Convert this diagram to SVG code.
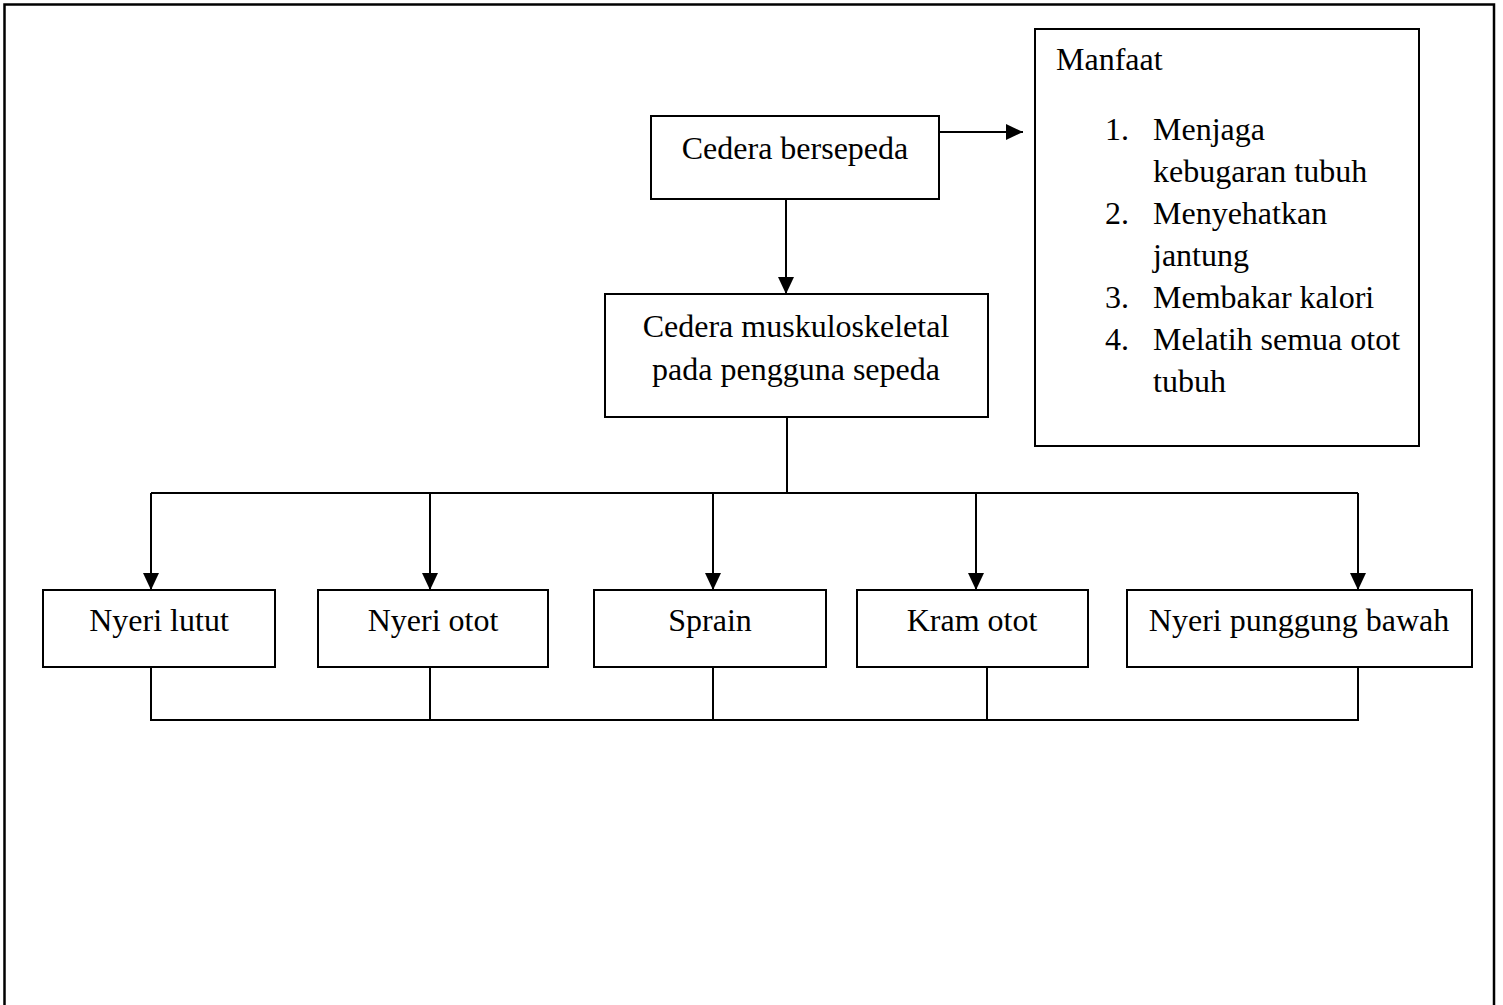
<svg xmlns="http://www.w3.org/2000/svg" width="1503" height="1005" viewBox="0 0 1503 1005">
<style>
.box{fill:#fff;stroke:#000;stroke-width:2}
.t{font-family:"Liberation Serif","Times New Roman",serif;font-size:32px;fill:#000}
.c{text-anchor:middle}
.ln{fill:none;stroke:#000;stroke-width:2}
</style>
<defs>
<marker id="ah" markerWidth="18" markerHeight="18" viewBox="0 0 18 18" refX="17" refY="9" orient="auto" markerUnits="userSpaceOnUse">
<path d="M0,1 L17,9 L0,17 Z" fill="#000"/>
</marker>
</defs>
<rect width="1503" height="1005" fill="#fff"/>
<rect x="4.5" y="4.5" width="1489.5" height="1020" fill="none" stroke="#000" stroke-width="2.5"/>
<g id="connectors">
<line class="ln" x1="940" y1="132" x2="1023" y2="132" marker-end="url(#ah)"/>
<line class="ln" x1="786" y1="199" x2="786" y2="294" marker-end="url(#ah)"/>
<line class="ln" x1="787" y1="417" x2="787" y2="493"/>
<line class="ln" x1="151" y1="493" x2="1358" y2="493"/>
<line class="ln" x1="151" y1="493" x2="151" y2="590" marker-end="url(#ah)"/>
<line class="ln" x1="430" y1="493" x2="430" y2="590" marker-end="url(#ah)"/>
<line class="ln" x1="713" y1="493" x2="713" y2="590" marker-end="url(#ah)"/>
<line class="ln" x1="976" y1="493" x2="976" y2="590" marker-end="url(#ah)"/>
<line class="ln" x1="1358" y1="493" x2="1358" y2="590" marker-end="url(#ah)"/>
<polyline class="ln" points="151,667 151,720 1358,720 1358,667"/>
<line class="ln" x1="430" y1="667" x2="430" y2="720"/>
<line class="ln" x1="713" y1="667" x2="713" y2="720"/>
<line class="ln" x1="987" y1="667" x2="987" y2="720"/>
</g>
<g id="cedera-bersepeda">
<rect class="box" x="651" y="116" width="288" height="83"/>
<text class="t c" x="795" y="159">Cedera bersepeda</text>
</g>
<g id="manfaat">
<rect class="box" x="1035" y="29" width="384" height="417"/>
<text class="t" x="1056" y="70">Manfaat</text>
<text class="t" x="1105" y="140">1.</text>
<text class="t" x="1153" y="140">Menjaga</text>
<text class="t" x="1153" y="182">kebugaran tubuh</text>
<text class="t" x="1105" y="224">2.</text>
<text class="t" x="1153" y="224">Menyehatkan</text>
<text class="t" x="1153" y="266">jantung</text>
<text class="t" x="1105" y="308">3.</text>
<text class="t" x="1153" y="308">Membakar kalori</text>
<text class="t" x="1105" y="350">4.</text>
<text class="t" x="1153" y="350">Melatih semua otot</text>
<text class="t" x="1153" y="392">tubuh</text>
</g>
<g id="cedera-muskuloskeletal">
<rect class="box" x="605" y="294" width="383" height="123"/>
<text class="t c" x="796" y="337">Cedera muskuloskeletal</text>
<text class="t c" x="796" y="380">pada pengguna sepeda</text>
</g>
<g id="nyeri-lutut">
<rect class="box" x="43" y="590" width="232" height="77"/>
<text class="t c" x="159" y="631">Nyeri lutut</text>
</g>
<g id="nyeri-otot">
<rect class="box" x="318" y="590" width="230" height="77"/>
<text class="t c" x="433" y="631">Nyeri otot</text>
</g>
<g id="sprain">
<rect class="box" x="594" y="590" width="232" height="77"/>
<text class="t c" x="710" y="631">Sprain</text>
</g>
<g id="kram-otot">
<rect class="box" x="857" y="590" width="231" height="77"/>
<text class="t c" x="972" y="631">Kram otot</text>
</g>
<g id="nyeri-punggung-bawah">
<rect class="box" x="1127" y="590" width="345" height="77"/>
<text class="t c" x="1299" y="631">Nyeri punggung bawah</text>
</g>
</svg>
